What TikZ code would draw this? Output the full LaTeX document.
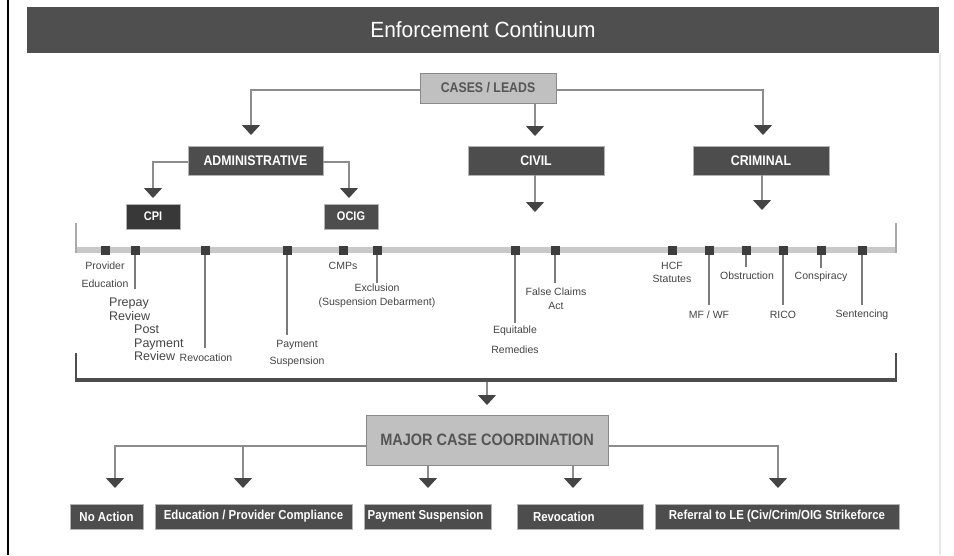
\documentclass[tikz,border=0pt]{standalone}
\usepackage{fontspec}
\setmainfont{Liberation Sans}
\newfontfamily\cf[FakeStretch=0.88]{Liberation Sans}
\newfontfamily\tf[FakeStretch=0.95]{Liberation Sans}
\usetikzlibrary{arrows.meta,calc}
\definecolor{barc}{HTML}{4F4F4F}
\definecolor{boxc}{HTML}{4D4D4D}
\definecolor{cpic}{HTML}{383838}
\definecolor{lightc}{HTML}{C0C0C0}
\definecolor{lightd}{HTML}{8A8A8A}
\definecolor{lightt}{HTML}{555555}
\definecolor{linec}{HTML}{8C8C8C}
\definecolor{stemc}{HTML}{7A7A7A}
\definecolor{arrc}{HTML}{444444}
\definecolor{lblc}{HTML}{444444}
\definecolor{tlc}{HTML}{C8C8C8}
\definecolor{capc}{HTML}{AAAAAA}
\definecolor{sqc}{HTML}{3D3D3D}
\definecolor{rightc}{HTML}{E8E8E8}
\begin{document}
\begin{tikzpicture}[x=1pt,y=-1pt,
  titlebar/.style={fill=barc, text=white, minimum width=912pt, minimum height=46pt, inner sep=0pt,
    font=\tf\fontsize{22}{24}\selectfont},
  darkbox/.style={draw=gray!60, fill=boxc, text=white, line width=0.8pt, inner sep=0pt,
    minimum height=29pt, font=\cf\bfseries\fontsize{14}{16}\selectfont},
  smallbox/.style={darkbox, fill=cpic, minimum height=25pt, minimum width=54pt,
    font=\cf\bfseries\fontsize{12.5}{14}\selectfont},
  lightbox/.style={draw=lightd, fill=lightc, text=lightt, line width=1pt, inner sep=0pt,
    font=\cf\bfseries\fontsize{14}{16}\selectfont},
  botbox/.style={darkbox, minimum height=25pt, font=\cf\bfseries\fontsize{13}{15}\selectfont},
  conn/.style={draw=linec, line width=1.2pt},
  arr/.style={conn, -{Triangle[width=18pt,length=10pt,color=arrc]}},
  sq/.style={fill=sqc, minimum size=9pt, inner sep=0pt},
  stem/.style={draw=stemc, line width=1.1pt},
  lbl/.style={text=lblc, inner sep=0pt, align=center, font=\fontsize{10.5}{12}\selectfont},
  biglbl/.style={text=lblc, inner sep=0pt, align=left, font=\fontsize{12.5}{13.5}\selectfont},
]
\useasboundingbox (0,0) rectangle (954,555);
\fill[white] (0,0) rectangle (954,555);
% frame lines
\coordinate (fl1) at (8,0); \coordinate (fl2) at (8,555);
\draw[black, line width=2pt] (fl1) -- (fl2);
\coordinate (fr1) at (940,53); \coordinate (fr2) at (940,555);
\draw[rightc, line width=2pt] (fr1) -- (fr2);

% title
\node[titlebar] (title) at (483,30) {Enforcement Continuum};

% top level
\node[lightbox, minimum width=136pt, minimum height=30pt] (cases) at (488,88) {CASES / LEADS};
\node[darkbox, minimum width=135pt] (admin) at (255.5,160.5) {ADMINISTRATIVE};
\node[darkbox, minimum width=136pt] (civil) at (536,160.5) {CIVIL};
\node[darkbox, minimum width=136pt] (crim) at (761,160.5) {CRIMINAL};
\node[smallbox] (cpi) at (153,216.5) {CPI};
\node[smallbox, fill=boxc] (ocig) at (351,216.5) {OCIG};

\coordinate (tA) at (251,135);
\coordinate (tB) at (535,136);
\coordinate (tC) at (763,135);
\draw[arr] ([yshift=-2pt]cases.west) -| (tA);
\draw[arr] ([yshift=-2pt]cases.east) -| (tC);
\draw[arr] (cases.south -| tB) -- (tB);

\coordinate (tCPI) at (153,198);
\coordinate (tOCIG) at (349,198);
\draw[arr] ([yshift=-1.5pt]admin.west) -| (tCPI);
\draw[arr] ([yshift=-1.5pt]admin.east) -| (tOCIG);
\coordinate (tCiv) at (535,212);
\coordinate (tCrim) at (762,210);
\draw[arr] (civil.south -| tCiv) -- (tCiv);
\draw[arr] (crim.south -| tCrim) -- (tCrim);

% timeline
\coordinate (tl1) at (76,250); \coordinate (tl2) at (896,250);
\coordinate (tl1t) at (76,223); \coordinate (tl2t) at (896,223);
\draw[tlc, line width=6pt] (tl1) -- (tl2);
\draw[capc, line width=1.5pt] (tl1t) -- ([yshift=-3pt]tl1);
\draw[capc, line width=1.5pt] (tl2t) -- ([yshift=-3pt]tl2);

\foreach \n/\x in {s1/105,s2/135,s3/205,s4/287,s5/343,s6/377,s7/515,s8/555,s9/672,s10/709,s11/746,s12/783,s13/821,s14/862}{
  \node[sq] (\n) at (\x,250) {};
}

% stems
\foreach \n/\y in {s2/289,s3/348,s4/335,s6/283,s7/323,s8/283,s10/305,s11/267,s12/305,s13/268,s14/305}{
  \coordinate (\n e) at ($(\n.center)+(0,\y-250)$);
  \draw[stem] (\n.south) -- (\n e);
}

% labels
\node[lbl] (l1) at (105,275) {Provider\\[6pt]Education};
\node[biglbl, anchor=west] (l2a) at (109,309.5) {Prepay\\Review};
\node[biglbl, anchor=west] (l2b) at (134,343) {Post\\Payment\\Review};
\node[lbl] (l3) at (206,358) {Revocation};
\node[lbl] (l4) at (297,353.5) {Payment\\[5pt]Suspension};
\node[lbl] (l5) at (343,266) {CMPs};
\node[lbl] (l6) at (377,296) {Exclusion\\[2pt](Suspension Debarment)};
\node[lbl] (l7) at (515,340) {Equitable\\[8pt]Remedies};
\node[lbl] (l8) at (556,299) {False Claims\\[2pt]Act};
\node[lbl] (l9) at (672,272.5) {HCF\\[1pt]Statutes};
\node[lbl] (l10) at (709,315) {MF / WF};
\node[lbl] (l11) at (747,276) {Obstruction};
\node[lbl] (l12) at (783,315) {RICO};
\node[lbl] (l13) at (821,277) {Conspiracy};
\node[lbl] (l14) at (862,315) {Sentencing};

% bracket
\coordinate (br1) at (76,380); \coordinate (br2) at (896,380);
\coordinate (br1t) at (76,353); \coordinate (br2t) at (896,353);
\draw[boxc, line width=2pt] (br1t) -- (br1);
\draw[boxc, line width=2pt] (br2t) -- (br2);
\draw[boxc, line width=3.5pt] ([xshift=-1pt]br1) -- ([xshift=1pt]br2);
\coordinate (brm) at (487,381.5);
\coordinate (tM) at (487,405);
\draw[arr] (brm) -- (tM);

% major case coordination
\node[lightbox, minimum width=242pt, minimum height=50pt, font=\cf\bfseries\fontsize{16.5}{18}\selectfont] (mcc) at (487,440) {MAJOR CASE COORDINATION};

\node[botbox, minimum width=73pt] (noact) at (106.5,516.5) {No Action};
\node[botbox, minimum width=197pt] (edu) at (253.5,516.5) {Education / Provider Compliance};
\node[botbox, minimum width=127pt] (pay) at (427.5,516.5) {\hspace*{-4pt}Payment Suspension};
\node[botbox, text width=110pt, inner xsep=8pt, align=left] (revo) at (580,516.5) {\hspace*{8pt}Revocation};
\node[botbox, minimum width=244pt] (ref) at (777,516.5) {Referral to LE (Civ/Crim/OIG Strikeforce};

\coordinate (b1) at (115,488);
\coordinate (b2t) at (243,446);
\coordinate (b2) at (243,488);
\coordinate (b3) at (428,488);
\coordinate (b4) at (573,488);
\coordinate (b5) at (778,488);
\draw[arr] ([yshift=-6pt]mcc.west) -| (b1);
\draw[arr] (b2t) -- (b2);
\draw[arr] (mcc.south -| b3) -- (b3);
\draw[arr] (mcc.south -| b4) -- (b4);
\draw[arr] ([yshift=-6pt]mcc.east) -| (b5);
\end{tikzpicture}
\end{document}
